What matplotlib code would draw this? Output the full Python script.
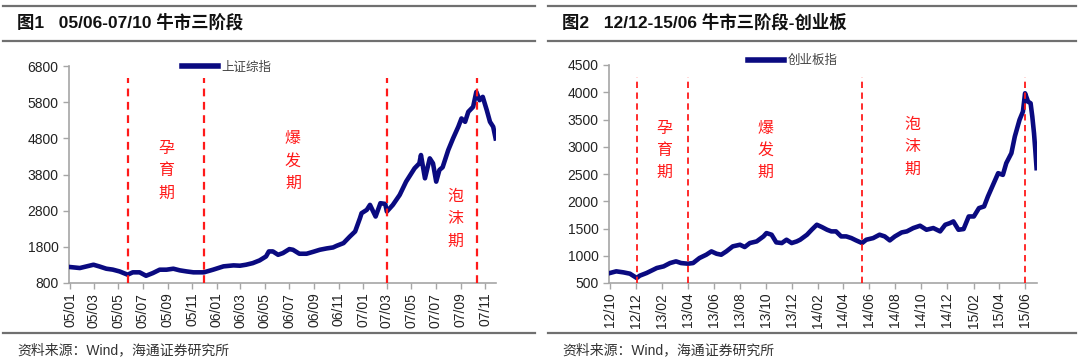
import numpy as np
import pandas as pd
import matplotlib
matplotlib.use("Agg")
import matplotlib.pyplot as plt
import matplotlib.dates as mdates
from matplotlib.lines import Line2D

plt.rcParams['font.family'] = ['Liberation Sans', 'Noto Sans CJK SC', 'DejaVu Sans']

# ---------------------------------------------------------------------------
# data

sh_dates = ['2005-01-01', '2005-01-25', '2005-02-28', '2005-03-14', '2005-04-01',
            '2005-04-17', '2005-05-04', '2005-05-24', '2005-06-06', '2005-06-23',
            '2005-07-09', '2005-07-26', '2005-08-12', '2005-08-29', '2005-09-15',
            '2005-10-01', '2005-10-18', '2005-11-04', '2005-11-30', '2005-12-23',
            '2006-01-18', '2006-02-12', '2006-02-28', '2006-03-15', '2006-04-01',
            '2006-04-18', '2006-05-04', '2006-05-11', '2006-05-21', '2006-06-03',
            '2006-06-15', '2006-07-01', '2006-07-10', '2006-07-26', '2006-08-13',
            '2006-08-30', '2006-09-15', '2006-10-02', '2006-10-18', '2006-10-27',
            '2006-11-13', '2006-11-29', '2006-12-12', '2006-12-24', '2006-12-28',
            '2007-01-10', '2007-01-18', '2007-02-01', '2007-02-13', '2007-02-25',
            '2007-03-01', '2007-03-16', '2007-04-02', '2007-04-18', '2007-05-09',
            '2007-05-21', '2007-05-25', '2007-06-04', '2007-06-16', '2007-06-24',
            '2007-07-02', '2007-07-10', '2007-07-18', '2007-08-01', '2007-08-13',
            '2007-08-26', '2007-09-03', '2007-09-12', '2007-09-20', '2007-10-02',
            '2007-10-10', '2007-10-18', '2007-10-26', '2007-11-05', '2007-11-13',
            '2007-11-21', '2007-11-27']
sh_values = [1241, 1214, 1305, 1260, 1195, 1170, 1120, 1030, 1095, 1095,
             1000, 1075, 1168, 1168, 1195, 1150, 1120, 1095, 1095, 1168,
             1260, 1287, 1278, 1305, 1350, 1425, 1535, 1673, 1673, 1580,
             1627, 1737, 1719, 1609, 1609, 1664, 1719, 1756, 1783, 1829,
             1903, 2087, 2225, 2592, 2730, 2822, 2960, 2638, 3006, 2987,
             2776, 2960, 3235, 3603, 3970, 4108, 4338, 3695, 4246, 4108,
             3603, 3925, 4000, 4476, 4798, 5119, 5349, 5257, 5533, 5671,
             6084, 5855, 5946, 5579, 5257, 5119, 4798]

cy_dates = ['2012-10-01', '2012-10-16', '2012-11-02', '2012-11-17', '2012-12-03',
            '2012-12-10', '2012-12-26', '2013-01-11', '2013-01-19', '2013-02-04',
            '2013-02-19', '2013-03-05', '2013-03-17', '2013-04-02', '2013-04-14',
            '2013-04-29', '2013-05-15', '2013-05-27', '2013-06-08', '2013-06-19',
            '2013-07-01', '2013-07-16', '2013-08-02', '2013-08-13', '2013-08-25',
            '2013-09-10', '2013-09-26', '2013-10-03', '2013-10-15', '2013-10-26',
            '2013-11-08', '2013-11-19', '2013-12-01', '2013-12-13', '2013-12-21',
            '2014-01-06', '2014-01-17', '2014-01-29', '2014-02-10', '2014-02-22',
            '2014-03-04', '2014-03-15', '2014-03-27', '2014-04-08', '2014-04-20',
            '2014-05-01', '2014-05-15', '2014-05-25', '2014-06-10', '2014-06-25',
            '2014-07-07', '2014-07-19', '2014-07-31', '2014-08-16', '2014-08-28',
            '2014-09-12', '2014-09-28', '2014-10-13', '2014-10-29', '2014-11-14',
            '2014-11-26', '2014-12-07', '2014-12-15', '2014-12-27', '2015-01-08',
            '2015-01-20', '2015-02-01', '2015-02-13', '2015-02-25', '2015-03-06',
            '2015-03-18', '2015-03-30', '2015-04-10', '2015-04-18', '2015-04-30',
            '2015-05-08', '2015-05-19', '2015-05-27', '2015-06-01', '2015-06-08',
            '2015-06-14', '2015-06-18', '2015-06-22', '2015-06-25', '2015-06-28']
cy_values = [683, 714, 695, 671, 592, 634, 683, 744, 775, 805,
             866, 897, 866, 854, 866, 958, 1019, 1080, 1037, 1019,
             1080, 1172, 1202, 1160, 1233, 1263, 1355, 1416, 1386, 1245,
             1233, 1294, 1233, 1263, 1294, 1386, 1477, 1569, 1526, 1477,
             1447, 1447, 1355, 1355, 1324, 1282, 1233, 1294, 1324, 1386,
             1355, 1282, 1355, 1428, 1447, 1508, 1551, 1477, 1508, 1447,
             1569, 1599, 1630, 1477, 1490, 1721, 1721, 1874, 1905, 2088,
             2302, 2515, 2484, 2699, 2882, 3187, 3492, 3645, 3981, 3828,
             3798, 3553, 3248, 2943, 2607]

sh_phase_dates = ['2005-05-24', '2005-11-30', '2007-03-01', '2007-10-12']
cy_phase_dates = ['2012-12-03', '2013-04-02', '2014-05-16', '2015-06-01']
phase_labels = ['孕\n育\n期', '爆\n发\n期', '泡\n沫\n期']

titles = ['图1   05/06-07/10 牛市三阶段', '图2   12/12-15/06 牛市三阶段-创业板']
legend_names = ['上证综指', '创业板指']
source_text = '资料来源：Wind，海通证券研究所'

# =============================================================================

W, H = 1080, 364
navy = '#0a0a80'
cjk = ['Noto Sans CJK SC', 'DejaVu Sans']


def px_axes(fig, x0, y0, x1, y1):
    # pixel box (top-left origin) -> figure axes
    return fig.add_axes([x0 / W, 1 - y1 / H, (x1 - x0) / W, (y1 - y0) / H])


def hline(fig, x0, x1, y, lw=1.6):
    fig.add_artist(Line2D([x0 / W, x1 / W], [1 - y / H, 1 - y / H],
                          color='#707070', lw=lw, transform=fig.transFigure))


def draw_panel(ax, dates, values, phases, ylim, ystep, xlim, tick_start, tick_end,
               fmt, label_pos, legend_name, legend_anchor, red_lw):
    d = pd.to_datetime(dates)
    ax.plot(d, values, color=navy, lw=3.3, solid_joinstyle='round',
            label=legend_name, zorder=3)
    for p in phases:
        ax.axvline(pd.Timestamp(p), ymin=0, ymax=0.945, color='#ff1a1a',
                   lw=red_lw, ls=(0, (3.5, 2.5)), zorder=4)
    ax.set_ylim(*ylim)
    ax.set_yticks(np.arange(ylim[0], ylim[1] + 1, ystep))
    ax.set_xlim(pd.Timestamp(xlim[0]), pd.Timestamp(xlim[1]))
    ticks = pd.date_range(tick_start, tick_end, freq='2MS')
    ax.set_xticks(ticks)
    ax.xaxis.set_major_formatter(mdates.DateFormatter(fmt))
    for s in ['top', 'right']:
        ax.spines[s].set_visible(False)
    for s in ['left', 'bottom']:
        ax.spines[s].set_color('#a6a6a6')
        ax.spines[s].set_linewidth(1.2)
    ax.tick_params(axis='both', direction='out', length=4, width=1,
                   color='#a6a6a6', labelsize=10, labelcolor='#222222')
    ax.tick_params(axis='x', labelrotation=90, pad=3)
    for (xd, yv), txt in zip(label_pos, phase_labels):
        ax.text(pd.Timestamp(xd), yv, txt, color='#ff1a1a', fontsize=11.5,
                family=cjk, ha='center', va='top', linespacing=1.4)
    leg = ax.legend(loc='center left', bbox_to_anchor=legend_anchor, frameon=False,
                    prop={'family': cjk, 'size': 9}, handlelength=2.9,
                    handletextpad=0.25, borderaxespad=0, borderpad=0)
    for t in leg.get_texts():
        t.set_color('#444444')
    for l in leg.get_lines():
        l.set_linewidth(4)


fig = plt.figure(figsize=(W / 100, H / 100), dpi=100)

# rules and texts
for x0, x1 in [(3, 535), (548, 1076)]:
    hline(fig, x0, x1, 6)
    hline(fig, x0, x1, 41)
    hline(fig, x0, x1, 333)
for x0, t in zip([17, 562], titles):
    fig.text(x0 / W, 1 - 22 / H, t, fontsize=12.5, fontweight='bold',
             family=['Liberation Sans', 'Noto Sans CJK SC'], va='center',
             color='#111111')
for x0 in [17, 562]:
    fig.text(x0 / W, 1 - 350 / H, source_text, fontsize=10,
             family=['Liberation Sans', 'Noto Sans CJK SC'], va='center',
             color='#333333')

ax1 = px_axes(fig, 69, 66, 496, 283)
draw_panel(ax1, sh_dates, sh_values, sh_phase_dates, (800, 6800), 1000,
           ('2004-12-29', '2007-11-28'), '2005-01-01', '2007-11-01', '%y/%m',
           [('2005-08-28', 4750), ('2006-07-10', 5020), ('2007-08-20', 3420)],
           legend_names[0], (0.265, 0.995), 1.6)

ax2 = px_axes(fig, 609, 65, 1037, 283)
draw_panel(ax2, cy_dates, cy_values, cy_phase_dates, (500, 4500), 500,
           ('2012-09-29', '2015-06-29'), '2012-10-01', '2015-06-01', '%y/%m',
           [('2013-02-05', 3500), ('2013-10-01', 3500), ('2014-09-10', 3560)],
           legend_names[1], (0.325, 1.02), 1.3)

fig.savefig('out.png', dpi=100)
